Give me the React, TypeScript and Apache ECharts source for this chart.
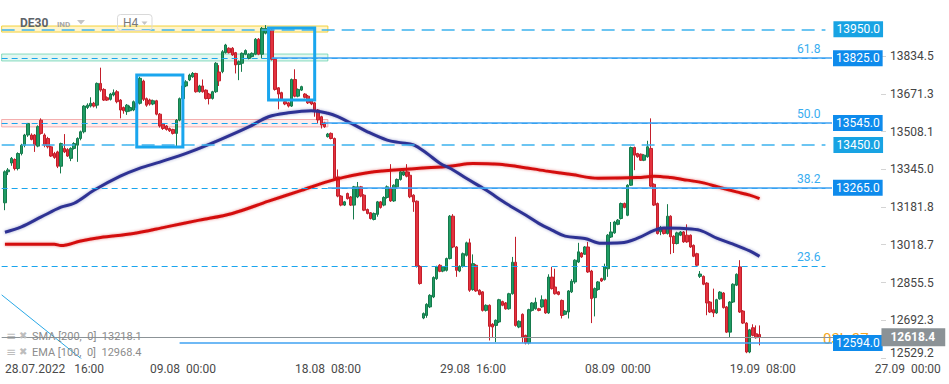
import React, { useEffect, useRef } from 'react';
import * as echarts from 'echarts';

const SLOTS = 288;

const opens = [
  13200,13334,13372,13387,13348,13413,13449,13493,13493,13493,
  13445,13557,13493,13478,13442,13413,13420,13358,13435,13430,
  13392,13435,13449,13478,13507,13612,13618,13630,13622,13716,
  13690,13654,13647,13666,13680,13644,13612,13594,13598,13601,
  13630,13630,13726,13650,13644,13627,13641,13583,13540,13532,
  13521,13517,13500,13557,13650,13705,13731,13745,13759,13680,
  13705,13687,13670,13651,13680,13765,13767,13849,13868,13868,
  13849,13798,13803,13842,13824,13832,13842,13907,13842,13933,
  13950,13947,13820,13697,13676,13637,13632,13618,13733,13661,
  13687,13670,13661,13644,13632,13601,13572,13546,13486,13500,
  13478,13312,13229,13190,13240,13225,13190,13225,13269,13233,
  13171,13157,13128,13150,13204,13190,13223,13262,13208,13269,
  13301,13320,13334,13319,13233,13207,12925,12702,12713,12750,
  12793,12872,12930,12905,12908,12959,13142,13009,12905,12925,
  12973,13027,12825,12930,12822,12815,12735,12757,12675,12670,
  12685,12773,12767,12742,12807,12943,12663,12718,12627,12594,
  12735,12742,12742,12750,12781,12724,12879,12836,12815,12778,
  12718,12728,12815,12858,12944,12983,12978,13009,12905,12790,
  12825,12872,12868,12915,13052,13070,13107,13132,13197,13146,
  13276,13439,13413,13410,13384,13399,13435,13280,13197,13075,
  13089,13067,13142,13055,13024,13060,13074,13060,13060,13016,
  12980,12882,12882,12853,12771,12738,12724,12785,12810,12750,
  12641,12771,12844,12923,12732,12680,12555,12660,12634,12631
];
const closes = [
  13334,13342,13392,13348,13413,13449,13493,13543,13474,13449,
  13529,13500,13449,13442,13402,13396,13358,13456,13420,13402,
  13435,13456,13478,13507,13618,13622,13630,13618,13716,13687,
  13644,13644,13670,13676,13637,13601,13598,13622,13612,13637,
  13612,13738,13647,13622,13627,13641,13583,13532,13521,13517,
  13511,13500,13557,13650,13705,13723,13752,13759,13680,13705,
  13680,13651,13651,13680,13803,13727,13853,13882,13849,13839,
  13796,13810,13846,13858,13842,13846,13907,13842,13954,13954,
  13932,13820,13690,13670,13647,13627,13618,13733,13661,13690,
  13702,13656,13632,13627,13601,13558,13536,13529,13497,13478,
  13305,13229,13190,13204,13218,13190,13269,13269,13229,13168,
  13154,13132,13154,13204,13180,13223,13269,13208,13276,13301,
  13334,13334,13315,13226,13204,12925,12851,12721,12761,12800,
  12877,12923,12904,12923,12959,13142,13009,12908,12925,12980,
  13027,12822,12937,12819,12804,12735,12757,12666,12663,12692,
  12781,12757,12742,12807,12943,12670,12688,12620,12594,12738,
  12767,12770,12735,12781,12724,12879,12829,12807,12804,12713,
  12732,12819,12861,12952,12988,12966,13009,12901,12786,12829,
  12858,12862,12923,13060,13074,13117,13125,13197,13180,13276,
  13439,13406,13399,13384,13406,13442,13272,13190,13067,13089,
  13067,13142,13053,13024,13070,13074,13031,13031,13009,12969,
  12930,12892,12848,12767,12728,12724,12781,12814,12747,12641,
  12771,12848,12891,12728,12680,12555,12651,12627,12617,12618.4
];
const lows = [
  13168,13320,13360,13340,13340,13405,13440,13485,13470,13420,
  13440,13495,13440,13435,13398,13390,13350,13327,13415,13398,
  13380,13430,13377,13470,13500,13605,13612,13612,13608,13680,
  13640,13640,13642,13660,13630,13565,13585,13580,13594,13596,
  13605,13625,13640,13615,13620,13622,13578,13525,13515,13512,
  13506,13495,13445,13552,13645,13700,13726,13740,13676,13676,
  13676,13646,13625,13646,13675,13705,13760,13845,13845,13835,
  13759,13730,13766,13838,13820,13828,13838,13838,13824,13928,
  13928,13815,13685,13604,13642,13622,13612,13614,13656,13656,
  13683,13651,13627,13622,13572,13543,13521,13524,13482,13474,
  13300,13224,13185,13186,13214,13186,13128,13220,13224,13164,
  13150,13128,13124,13140,13175,13185,13218,13204,13204,13265,
  13296,13316,13310,13220,13161,12920,12846,12697,12703,12745,
  12788,12867,12900,12900,12903,12955,13004,12880,12900,12920,
  12968,12815,12820,12815,12800,12730,12730,12605,12620,12598,
  12680,12753,12738,12738,12803,12665,12658,12595,12588,12588,
  12730,12738,12731,12746,12720,12720,12825,12803,12800,12700,
  12714,12700,12810,12850,12940,12962,12975,12897,12680,12709,
  12820,12858,12864,12880,13048,13066,13103,13128,13176,13142,
  13273,13341,13395,13381,13380,13395,13268,13186,13063,13060,
  13063,13063,12978,12983,13020,13056,13027,13027,13005,12965,
  12926,12875,12844,12714,12724,12706,12720,12781,12743,12637,
  12620,12767,12840,12724,12676,12550,12550,12623,12613,12584
];
const highs = [
  13340,13350,13398,13392,13418,13455,13498,13545,13500,13497,
  13535,13565,13500,13485,13446,13420,13425,13460,13497,13436,
  13440,13462,13483,13512,13622,13630,13656,13636,13720,13784,
  13695,13660,13675,13690,13687,13648,13616,13627,13620,13642,
  13636,13745,13732,13655,13650,13646,13645,13588,13545,13536,
  13525,13520,13562,13655,13710,13730,13758,13765,13762,13710,
  13733,13690,13675,13684,13808,13795,13860,13887,13872,13873,
  13852,13815,13850,13863,13846,13850,13912,13912,13960,13968,
  13955,13952,13825,13700,13680,13641,13636,13737,13777,13694,
  13706,13674,13666,13648,13636,13605,13576,13550,13502,13504,
  13482,13344,13233,13208,13244,13229,13273,13290,13273,13237,
  13175,13160,13158,13208,13208,13228,13275,13367,13280,13305,
  13338,13348,13367,13334,13237,13210,12930,12726,12766,12805,
  12882,12928,12935,12927,12963,13147,13151,13013,12930,12985,
  13032,13045,12977,12935,12826,12818,12761,12761,12680,12696,
  12785,12777,12771,12811,12966,13053,12692,12722,12630,12742,
  12771,12790,12746,12800,12785,12891,12923,12915,12818,12782,
  12736,12823,12870,12956,13027,12987,13013,13031,12910,12834,
  12862,12876,12937,13065,13117,13122,13130,13201,13201,13280,
  13443,13443,13416,13413,13410,13468,13565,13284,13201,13100,
  13093,13194,13146,13060,13075,13078,13078,13107,13063,13020,
  12984,12905,12886,12857,12775,12829,12785,12818,12814,12754,
  12775,12852,12895,12952,12736,12684,12655,12675,12670,12670
];

// indicator lines read at candle indices
const smaIdx = [0,15,17,23,29,39,49,59,69,80,90,100,110,125,135,142,150,156,164,172,180,192,197,202,207,212,217,222,226,229];
const smaVal = [13021,13021,13015,13035,13050,13067,13096,13125,13154,13207,13254,13300,13330,13348,13358,13370,13367,13356,13338,13322,13306,13309,13315,13309,13298,13286,13266,13247,13233,13218.1];
const emaIdx = [0,5,11,17,21,27,35,41,47,56,65,74,80,86,93,98,101,105,110,116,120,124,128,132,136,140,146,152,158,162,166,170,176,181,187,192,197,200,206,211,216,221,226,229];
const emaVal = [13073,13096,13139,13181,13198,13254,13315,13350,13376,13419,13471,13528,13572,13589,13598,13587,13572,13544,13507,13471,13460,13450,13414,13371,13342,13306,13255,13198,13147,13111,13082,13056,13046,13025,13027,13047,13081,13091,13089,13081,13047,13021,12992,12968.4];

const trendIdx = [-1, 25];
const trendVal = [12802, 12505];

const xTickCandle = [0, 44, 88, 132, 176, 220, 264];
const xTickLabels = ['28.07.2022   16:00', '09.08  00:00', '18.08  08:00', '29.08  16:00', '08.09  00:00', '19.09  08:00', '27.09  00:00'];
const yTicks = [12529.2, 12692.3, 12855.5, 13018.7, 13181.8, 13345.0, 13508.1, 13671.3, 13834.5];

const lightLevels = [13950, 13450];
const fibNames = ['61.8', '50.0', '38.2', '23.6'];
const fibPrices = [13825, 13545, 13265, 12925];
const solidLevels = [13825, 13545, 13265, 12594];
const solidStart = [81, 97, 98, 53];
const currentPrice = 12618.4;
const smaLast = 13218.1;
const emaLast = 12968.4;

const LIGHT_BOX = '#18a3e3';
const DARK_BOX = '#0e8bec';

export default function App() {
  const ref = useRef<HTMLDivElement>(null);
  useEffect(() => {
    const chart = echarts.init(ref.current!, null, { renderer: 'svg' });
    const cats = Array.from({ length: SLOTS }, (_, i) => String(i));
    const labelAt: Record<number, string> = {};
    xTickCandle.forEach((c, k) => { labelAt[c + 1] = xTickLabels[k]; });

    const candleData = opens.map((o, i) => [i + 1, o, closes[i], lows[i], highs[i]]);
    const smaData = smaIdx.map((c, k) => [c + 1, smaVal[k]]);
    const emaData = emaIdx.map((c, k) => [c + 1, emaVal[k]]);
    const trendData = trendIdx.map((c, k) => [c + 1, trendVal[k]]);

    const boxLabel = (text: string, bg: string, distance: number) => ({
      show: true, position: 'end', distance, formatter: text, color: '#fff',
      backgroundColor: bg, padding: [2, 3, 1, 3], fontSize: 12, lineHeight: 13,
    });
    const END = 250;
    const lines: any[] = [];
    lightLevels.forEach((p) => {
      lines.push([
        { coord: [0, p], lineStyle: { color: '#3db2ee', width: 1.5, type: [13, 7] }, label: boxLabel(p.toFixed(1), LIGHT_BOX, 8) },
        { coord: [END, p] },
      ]);
    });
    fibPrices.forEach((p, k) => {
      lines.push([
        { coord: [0, p], lineStyle: { color: '#19a5ee', width: 1, type: [6, 4] },
          label: { show: true, position: 'insideEndTop', distance: [5, 3], formatter: fibNames[k], color: '#38adf0', fontSize: 12 } },
        { coord: [END, p] },
      ]);
    });
    lines.push([
      { coord: [0, 12925], lineStyle: { opacity: 0 }, label: boxLabel('12925.0', DARK_BOX, 8) },
      { coord: [END, 12925] },
    ]);
    solidLevels.forEach((p, k) => {
      lines.push([
        { coord: [solidStart[k] + 1, p], lineStyle: { color: '#3fa2f2', width: 1.6, type: 'solid' }, label: boxLabel(p.toFixed(1), DARK_BOX, 1) },
        { coord: [252, p] },
      ]);
    });
    lines.push([
      { coord: [0, currentPrice], lineStyle: { color: '#8c9397', width: 1.2, type: 'solid' },
        label: { show: true, position: 'end', distance: 0, formatter: currentPrice.toFixed(1), color: '#fff', backgroundColor: '#8b9296',
          padding: [2, 10, 2, 9], fontSize: 12, fontWeight: 'bold', lineHeight: 14 } },
      { coord: [267, currentPrice] },
    ]);

    const bands = [
      [{ coord: [0, 13964], itemStyle: { color: 'rgba(255,232,140,0.45)', borderColor: '#f2d13a', borderWidth: 1 } }, { coord: [99, 13938] }],
      [{ coord: [0, 13843], itemStyle: { color: 'rgba(150,225,200,0.28)', borderColor: 'rgba(90,205,165,0.7)', borderWidth: 1 } }, { coord: [99, 13813] }],
      [{ coord: [0, 13560], itemStyle: { color: 'rgba(250,200,200,0.35)', borderColor: 'rgba(240,150,150,0.75)', borderWidth: 1 } }, { coord: [99, 13528] }],
    ];
    const boxes = [
      [{ coord: [41, 13752], itemStyle: { color: 'rgba(0,0,0,0)', borderColor: '#1aa6ee', borderWidth: 3 } }, { coord: [55, 13441] }],
      [{ coord: [81, 13956], itemStyle: { color: 'rgba(0,0,0,0)', borderColor: '#1aa6ee', borderWidth: 3 } }, { coord: [95, 13644] }],
    ];

    const option: any = {
      animation: false,
      backgroundColor: '#ffffff',
      textStyle: { fontFamily: 'Roboto, "Noto Sans", sans-serif' },
      grid: { left: 0, right: 0, top: 0, bottom: 26, containLabel: false },
      xAxis: {
        type: 'category', data: cats, boundaryGap: true,
        axisLine: { show: false }, axisTick: { show: false }, splitLine: { show: false },
        axisLabel: {
          interval: (i: number) => labelAt[i] !== undefined,
          formatter: (_v: string, i: number) => labelAt[i] || '',
          align: 'left', color: '#4a4a4a', fontSize: 12, margin: 5,
        },
      },
      yAxis: {
        type: 'value', position: 'right', offset: -68, min: 12529.2, max: 14076.5,
        splitLine: { show: false }, axisLine: { show: false },
        axisTick: { show: true, customValues: yTicks, length: 5, lineStyle: { color: '#d4d4d4' } },
        axisLabel: {
          customValues: yTicks, margin: 9, color: '#444', fontSize: 12,
          formatter: (v: number) => (Math.abs(v - yTicks[0]) < 0.01 ? `{low|${v.toFixed(1)}}` : v.toFixed(1)),
          rich: { low: { color: '#444', fontSize: 12, padding: [0, 0, 10, 0] } },
        },
      },
      series: [
        {
          type: 'candlestick', data: candleData, encode: { x: 0, y: [1, 2, 3, 4] },
          barWidth: 3, z: 2,
          itemStyle: { color: '#1f9c63', color0: '#e3323e', borderColor: '#167a4c', borderColor0: '#c31f2b', borderWidth: 1 },
          markArea: { silent: true, data: bands },
          markLine: { silent: true, symbol: ['none', 'none'], data: lines },
        },
        {
          type: 'line', data: smaData, smooth: 0.35, symbol: 'none', z: 3,
          lineStyle: { color: '#d40d0d', width: 3, shadowColor: 'rgba(212,13,13,0.45)', shadowBlur: 3 },
        },
        {
          type: 'line', data: emaData, smooth: 0.35, symbol: 'none', z: 3,
          lineStyle: { color: '#2f3394', width: 3, shadowColor: 'rgba(47,51,148,0.45)', shadowBlur: 3 },
        },
        {
          type: 'line', data: trendData, symbol: 'none', z: 3,
          lineStyle: { color: '#2aa8e6', width: 1 },
          markArea: { silent: true, z: 10, data: boxes },
        },
      ],
      graphic: [
        { type: 'text', x: 20, y: 22.5, z: 100, style: { text: 'DE30', fill: '#5d6369', font: 'bold 12px Roboto', verticalAlign: 'middle' } },
        { type: 'text', x: 57, y: 24, z: 100, style: { text: 'IND', fill: '#a6a6a6', font: 'bold 8px Roboto', verticalAlign: 'middle' } },
        { type: 'polygon', z: 100, shape: { points: [[77, 20], [85, 20], [81, 24.5]] }, style: { fill: '#c4c4c4' } },
        { type: 'rect', z: 100, shape: { x: 117.5, y: 14.5, width: 34.5, height: 16, r: 3 }, style: { fill: 'rgba(255,255,255,0)', stroke: '#d9d9d9', lineWidth: 1 } },
        { type: 'text', x: 123, y: 23, z: 101, style: { text: 'H4', fill: '#7a7a7a', font: '12px Roboto', verticalAlign: 'middle' } },
        { type: 'polygon', z: 101, shape: { points: [[141.5, 21.5], [147.5, 21.5], [144.5, 25]] }, style: { fill: '#c4c4c4' } },
        { type: 'text', x: 6, y: 335.5, z: 100, style: { text: '≡', fill: '#bdbdbd', font: '12px "DejaVu Sans"', verticalAlign: 'middle' } },
        { type: 'text', x: 19, y: 335.5, z: 100, style: { text: '✖', fill: '#bdbdbd', font: '10px "DejaVu Sans"', verticalAlign: 'middle' } },
        { type: 'text', x: 32, y: 336, z: 100, style: { text: `SMA [200,  0]  ${smaLast.toFixed(1)}`, fill: '#8c8c8c', font: '11px Roboto', verticalAlign: 'middle' } },
        { type: 'text', x: 6, y: 351.5, z: 100, style: { text: '≡', fill: '#bdbdbd', font: '12px "DejaVu Sans"', verticalAlign: 'middle' } },
        { type: 'text', x: 19, y: 351.5, z: 100, style: { text: '✖', fill: '#bdbdbd', font: '10px "DejaVu Sans"', verticalAlign: 'middle' } },
        { type: 'text', x: 32, y: 352, z: 100, style: { text: `EMA [100,  0]  ${emaLast.toFixed(1)}`, fill: '#8c8c8c', font: '11px Roboto', verticalAlign: 'middle' } },
        { type: 'text', x: 823, y: 339, z: 1, style: { text: '03h 27m', fill: '#f5a623', font: '15px Roboto', verticalAlign: 'middle' } },
      ],
    };
    chart.setOption(option);
    return () => chart.dispose();
  }, []);
  return <div ref={ref} style={{ position: 'absolute', left: 0, top: 0, width: 949, height: 384 }} />;
}
